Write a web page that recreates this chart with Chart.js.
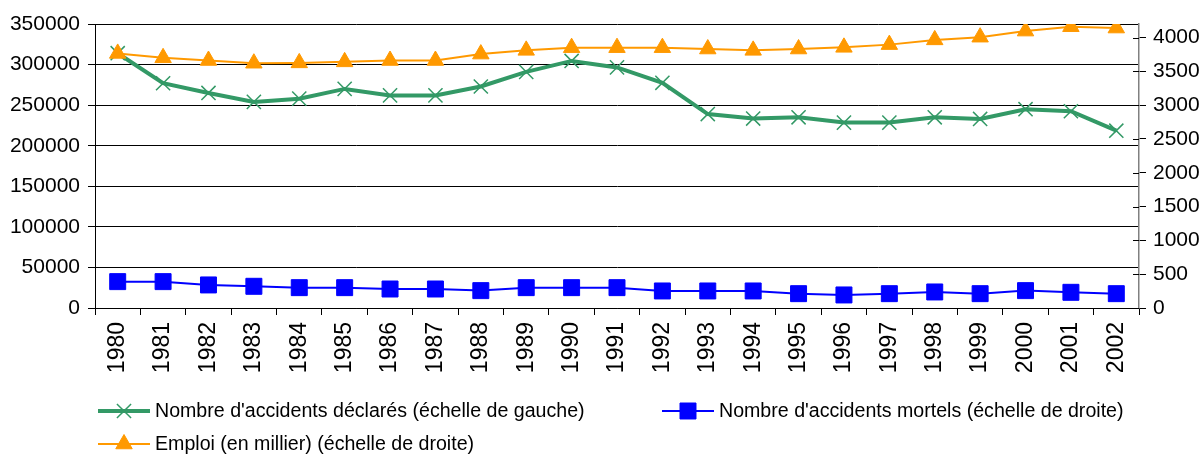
<!DOCTYPE html>
<html lang="fr">
<head>
<meta charset="UTF-8">
<title>Accidents du travail et emploi 1980-2002</title>
<script src="https://cdn.jsdelivr.net/npm/chart.js@4.4.1/dist/chart.umd.min.js"></script>
<style>
  html, body { margin: 0; padding: 0; background: #fff; }
  .chartbox { position: relative; width: 1204px; height: 454px; }
</style>
</head>
<body>
<div class="chartbox">
  <canvas id="myChart"></canvas>
</div>
<script>
// donnees
var years = ['1980', '1981', '1982', '1983', '1984', '1985', '1986', '1987', '1988', '1989', '1990', '1991',
             '1992', '1993', '1994', '1995', '1996', '1997', '1998', '1999', '2000', '2001', '2002'];
var accidentsDeclares = [314000, 277000, 265000, 254000, 258000, 270000, 262000, 262000, 273000, 291000, 304500, 296500,
                         277500, 239000, 233500, 235000, 228500, 228500, 235000, 233000, 245000, 242500, 218500];
var accidentsMortels = [390, 390, 341, 321, 301, 301, 281, 281, 257, 301, 301, 301,
                        252, 252, 252, 212, 193, 212, 237, 212, 257, 232, 212];
var emploi = [3765, 3700, 3660, 3620, 3625, 3640, 3660, 3660, 3755, 3810, 3850, 3850,
              3850, 3830, 3810, 3830, 3855, 3895, 3965, 4005, 4095, 4160, 4140];

// graduations
var leftTicks = [0, 50000, 100000, 150000, 200000, 250000, 300000, 350000];
var rightTicks = [0, 500, 1000, 1500, 2000, 2500, 3000, 3500, 4000];

var labelDeclares = "Nombre d'accidents déclarés (échelle de gauche)";
var labelMortels = "Nombre d'accidents mortels (échelle de droite)";
var labelEmploi = "Emploi (en millier) (échelle de droite)";

var green = '#339966';
var blue = '#0000ff';
var orange = '#ff9900';

Chart.defaults.font.family = '"Liberation Sans", Arial, sans-serif';
Chart.defaults.font.size = 21;
Chart.defaults.color = '#000';

function plain(value) { return String(value); }

// legende dessinee a la main sous le graphique + petits traits a l'interieur de l'axe droit
var legendeBas = {
  id: 'legendeBas',
  afterDraw: function(chart) {
    var ctx = chart.ctx;
    ctx.save();

    // traits de graduation qui traversent l'axe droit
    var y1 = chart.scales.y1;
    ctx.strokeStyle = '#000';
    ctx.lineWidth = 1;
    y1.ticks.forEach(function(t) {
      var py = Math.round(y1.getPixelForValue(t.value)) + 0.5;
      ctx.beginPath();
      ctx.moveTo(chart.chartArea.right - 6, py);
      ctx.lineTo(chart.chartArea.right, py);
      ctx.stroke();
    });

    var items = [
      { x: 98, y: 411, text: labelDeclares, color: green, lw: 4, style: 'crossRot', r: 10, bw: 1.5 },
      { x: 662, y: 411, text: labelMortels, color: blue, lw: 2, style: 'rect', r: 11.3, bw: 1 },
      { x: 98, y: 444, text: labelEmploi, color: orange, lw: 2, style: 'triangle', r: 9.5, bw: 1 }
    ];
    ctx.font = '19.6px "Liberation Sans", Arial, sans-serif';
    ctx.textBaseline = 'middle';
    items.forEach(function(it) {
      ctx.strokeStyle = it.color;
      ctx.fillStyle = it.color;
      ctx.lineWidth = it.lw;
      ctx.beginPath();
      ctx.moveTo(it.x, it.y);
      ctx.lineTo(it.x + 52, it.y);
      ctx.stroke();
      ctx.lineWidth = it.bw;
      Chart.helpers.drawPoint(ctx, { pointStyle: it.style, radius: it.r, borderWidth: it.bw, rotation: 0 }, it.x + 26, it.y);
      ctx.fillStyle = '#000';
      ctx.fillText(it.text, it.x + 57, it.y + 1);
    });
    ctx.restore();
  }
};

var ctx = document.getElementById('myChart').getContext('2d');
var myChart = new Chart(ctx, {
  type: 'line',
  data: {
    labels: years,
    datasets: [
      {
        label: labelDeclares,
        data: accidentsDeclares,
        yAxisID: 'y',
        borderColor: green,
        backgroundColor: green,
        borderWidth: 4,
        pointStyle: 'crossRot',
        pointRadius: 10,
        pointBorderWidth: 1.5,
        order: 1
      },
      {
        label: labelMortels,
        data: accidentsMortels,
        yAxisID: 'y1',
        borderColor: blue,
        backgroundColor: blue,
        borderWidth: 2,
        pointStyle: 'rect',
        pointRadius: 11.3,
        pointBorderWidth: 1,
        order: 2
      },
      {
        label: labelEmploi,
        data: emploi,
        yAxisID: 'y1',
        borderColor: orange,
        backgroundColor: orange,
        borderWidth: 2,
        pointStyle: 'triangle',
        pointRadius: 9.5,
        pointBorderWidth: 1,
        order: 0
      }
    ]
  },
  options: {
    responsive: true,
    maintainAspectRatio: false,
    animation: false,
    layout: { padding: { top: 24, left: 0, right: 0, bottom: 0 } },
    elements: { line: { tension: 0 } },
    plugins: {
      legend: { display: false },
      tooltip: { enabled: false }
    },
    scales: {
      x: {
        offset: true,
        grid: { offset: true, drawOnChartArea: false, color: '#000', tickLength: 7 },
        border: { color: '#000' },
        ticks: { autoSkip: false, minRotation: 90, maxRotation: 90, padding: 7, font: { size: 23 } },
        afterFit: function(scale) { scale.height = 146; }
      },
      y: {
        position: 'left',
        min: 0,
        max: 350000,
        ticks: { padding: 8, callback: plain },
        afterBuildTicks: function(scale) {
          scale.ticks = leftTicks.map(function(v) { return { value: v }; });
        },
        grid: { color: '#000', tickLength: 7 },
        border: { color: '#000' },
        afterFit: function(scale) { scale.width = 95; }
      },
      y1: {
        position: 'right',
        min: 0,
        max: 4200,
        ticks: { padding: 7, callback: plain },
        afterBuildTicks: function(scale) {
          scale.ticks = rightTicks.map(function(v) { return { value: v }; });
        },
        grid: { drawOnChartArea: false, color: '#000', tickLength: 7 },
        border: { color: '#808080', width: 1.5 },
        afterFit: function(scale) { scale.width = 65; }
      }
    }
  },
  plugins: [legendeBas]
});
</script>
</body>
</html>
